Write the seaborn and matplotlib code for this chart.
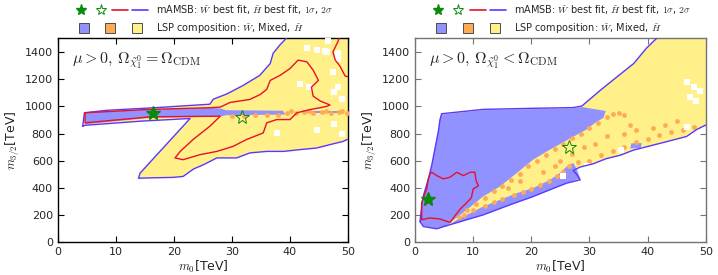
import numpy as np
import pandas as pd
import seaborn as sns
from matplotlib import pyplot as plt
from matplotlib.lines import Line2D
from matplotlib.legend_handler import HandlerTuple

# ---- left panel: Omega = Omega_CDM ----
L_OUTER_X = [4.3, 4.6, 8.4, 17.0, 26.2, 26.8, 29.1, 31.9, 34.8, 36.6, 37.1, 38.3, 39.7, 40.5, 52, 52,
             49.8, 49.2, 46.9, 44.6, 41.7, 38.9, 36.0, 33.1, 30.8, 27.4, 25.1, 23.4, 21.6, 19.9,
             16.5, 13.9, 14.2, 22.8, 14.2, 4.7]
L_OUTER_Y = [854, 953, 971, 991, 1016, 1053, 1091, 1153, 1228, 1315, 1390, 1453, 1515, 1560, 1560, 756,
             756, 743, 719, 694, 682, 669, 669, 658, 621, 621, 571, 540, 485, 478,
             475, 472, 510, 911, 891, 861]
L_WINO_X = [4.7, 4.7, 16.0, 26.2, 28.0, 29.0, 38.8, 39.2, 29.0, 28.0, 16.0, 4.7]
L_WINO_Y = [868, 955, 978, 990, 985, 972, 968, 940, 935, 925, 916, 868]
L_WINO2_X = [42.5, 48.5, 48.5, 42.5]
L_WINO2_Y = [948, 948, 964, 964]
L_MIX_X = [30, 32, 34, 36, 38, 39.5, 41, 42.5, 44, 45.5, 47, 48.5, 49.8,
           40.2, 43.2, 46.2, 49.0]
L_MIX_Y = [930, 932, 934, 936, 940, 955, 950, 956, 952, 958, 953, 957, 952,
           965, 968, 966, 968]
L_HOLE_X = [42.9, 44.6, 46.3, 48.3, 41.7, 43.2, 48.3, 47.5, 48.9, 44.6, 37.7, 47.5, 48.9,
            46.5, 48.3, 46.0, 47.4]
L_HOLE_Y = [1428, 1415, 1403, 1395, 1166, 1141, 1141, 1103, 1053, 830, 805, 870, 800,
            1481, 1346, 1407, 1250]
L_1S_X = [4.7, 15.9, 26.2, 28.0, 29.7, 33.1, 34.9, 36.0, 36.6, 38.3, 40.0, 41.4, 42.9, 44.0,
          44.9, 43.7, 44.0, 45.2, 46.9, 46.3, 45.2, 43.5, 41.2, 40.0, 37.7, 36.0, 35.4, 32.5,
          30.2, 27.4, 24.5, 21.6, 20.2, 21.1, 23.3, 26.2, 28.0, 15.9, 4.7, 4.7]
L_1S_Y = [953, 978, 990, 995, 1029, 1051, 1088, 1125, 1191, 1228, 1278, 1340, 1328, 1266,
          1191, 1141, 1075, 1040, 1010, 1000, 990, 977, 953, 903, 903, 879, 805, 756,
          706, 669, 645, 608, 621, 669, 756, 854, 928, 923, 879, 953]
L_1S2_X = [48.9, 48.3, 47.4, 47.8, 48.6, 49.5, 52, 52]
L_1S2_Y = [1560, 1480, 1400, 1340, 1297, 1223, 1200, 1560]
L_BEST = (16.4, 953)
L_HBEST = (31.7, 921)

# ---- right panel: Omega < Omega_CDM ----
R_OUTER_X = [0.86, 1.15, 1.43, 2.3, 2.87, 3.44, 4.01, 4.3, 4.58, 11.75, 20.4, 27.2, 28.7, 31.8,
             34.7, 37.6, 39.8, 41.9, 43, 52, 52, 49.9, 48.4, 46.7, 43.3, 41.0, 37.6, 35.3, 32.9,
             30.7, 28.4, 27.2, 27.8, 28.4, 26.1, 23.2, 20.3, 16.3, 11.7, 4.9, 3.73, 1.43]
R_OUTER_Y = [154, 267, 342, 467, 566, 691, 816, 903, 946, 978, 986, 991, 1003, 1116,
             1216, 1315, 1428, 1515, 1560, 1560, 861, 861, 829, 779, 741, 716, 679, 641, 616,
             579, 554, 529, 500, 460, 436, 387, 337, 276, 202, 116, 100, 117]
R_WINO_X = [0.95, 1.15, 1.43, 2.3, 2.87, 3.44, 4.01, 4.3, 4.58, 11.75, 20.4, 27.2, 28.7, 32.8,
            32.4, 31.0, 29.5, 26.5, 23.2, 20.3, 17.5, 14.6, 11.7, 8.9, 6.6, 5.4, 3.73, 1.43]
R_WINO_Y = [160, 267, 342, 467, 566, 691, 816, 903, 940, 972, 980, 985, 995, 966,
            916, 880, 830, 760, 682, 608, 510, 411, 337, 239, 165, 117, 102, 122]
R_WINO2_X = [5.5, 7.2, 11.7, 14.6, 17.5, 20.3, 23.2, 24.9, 26.1, 27.2, 27.8, 28.4, 26.1, 23.2,
             20.3, 16.3, 11.7, 4.9]
R_WINO2_Y = [120, 165, 263, 313, 362, 399, 460, 510, 559, 584, 540, 470, 436, 387,
             337, 276, 202, 116]
R_WINO3_X = [37.0, 38.8, 39.0, 37.2]
R_WINO3_Y = [690, 695, 730, 728]
R_MIX_X = [7.5, 9, 10.5, 12, 13.5, 15, 16.5, 18, 19.5, 21, 22.5, 24, 25.5, 27, 28.5, 30, 31.5,
           33, 34, 35, 36,
           8.5, 10, 12, 13.5, 15, 17, 18.5, 20, 21.5, 23, 24.5, 25.5, 26.5, 28, 30, 32, 34,
           36, 38, 40, 42, 44, 46, 48,
           22, 25, 27, 29, 31, 33, 36, 38, 41, 43, 45, 37, 18, 16, 24]
R_MIX_Y = [190, 235, 280, 330, 375, 415, 460, 505, 560, 600, 640, 690, 720, 770, 800, 840, 880,
           920, 945, 950, 940,
           200, 235, 270, 300, 320, 345, 370, 395, 420, 450, 490, 520, 560, 590, 600, 640, 670,
           700, 740, 760, 790, 810, 830, 850,
           520, 600, 650, 700, 720, 780, 800, 830, 840, 866, 895, 866, 450, 400, 560]
R_HOLE_X = [46.7, 47.9, 49.0, 47.3, 48.4, 46.7, 42.7, 35.5, 29.5, 25.5]
R_HOLE_Y = [1178, 1141, 1116, 1066, 1041, 846, 716, 679, 559, 491]
R_1S_X = [1.15, 1.15, 2.0, 2.3, 2.6, 2.87, 3.73, 4.9, 6.0, 7.2, 8.3, 9.5, 10.3, 10.5, 10.9,
          10.0, 9.7, 8.9, 7.7, 6.6, 6.0, 4.3, 2.6, 1.15]
R_1S_Y = [167, 292, 392, 467, 504, 516, 491, 467, 479, 516, 491, 516, 516, 454, 416,
          392, 329, 292, 242, 180, 147, 172, 180, 167]
R_BEST = (2.3, 322)
R_HBEST = (26.4, 704)

X_TICKS = [0, 10, 20, 30, 40, 50]
Y_TICKS = [0, 200, 400, 600, 800, 1000, 1200, 1400]

YELLOW = "#fff08a"
WINO = "#9191ff"
ORANGE = "#ffaa55"
BLUE_LINE = "#5a37ff"
RED = "#e8102a"
GREEN = "#0a8a0a"

sns.set_style("ticks")
plt.rcParams["font.family"] = ["DejaVu Sans"]
plt.rcParams["mathtext.fontset"] = "cm"


def closed(xs, ys):
    return list(xs) + [xs[0]], list(ys) + [ys[0]]


def draw_panel(ax, outer, winos, mix, holes, ones, best, hbest, text, spine_col):
    ax.fill(outer[0], outer[1], color=YELLOW, lw=0, zorder=1)
    for wx, wy in winos:
        ax.fill(wx, wy, color=WINO, lw=0, zorder=2)
    sns.scatterplot(x=mix[0], y=mix[1], ax=ax, color=ORANGE, marker="o", s=12,
                    linewidth=0, zorder=3, legend=False)
    sns.scatterplot(x=holes[0], y=holes[1], ax=ax, color="white", marker="s", s=14,
                    linewidth=0, zorder=3, legend=False)
    ox, oy = closed(*outer)
    ax.plot(ox, oy, color=BLUE_LINE, lw=1.0, zorder=4)
    for rx, ry in ones:
        cx, cy = closed(rx, ry)
        ax.plot(cx, cy, color=RED, lw=1.0, zorder=5)
    ax.plot(*best, ls="none", marker="*", ms=10, color=GREEN, zorder=6)
    ax.plot(*hbest, ls="none", marker="*", ms=10, mfc="none", mec=GREEN, mew=0.7, zorder=6)

    ax.set_xlim(0, 50)
    ax.set_ylim(0, 1500)
    ax.set_xticks(X_TICKS)
    ax.set_yticks(Y_TICKS)
    ax.tick_params(direction="in", top=True, right=True, length=4, width=0.8,
                   labelsize=8, color=spine_col)
    for sp in ax.spines.values():
        sp.set_visible(True)
        sp.set_color(spine_col)
        sp.set_linewidth(1.0)
    ax.set_xlabel(r"$m_0$[TeV]", fontsize=9, labelpad=1)
    ax.set_ylabel(r"$m_{3/2}$[TeV]", fontsize=9, labelpad=2)
    ax.text(0.048, 0.877, text, transform=ax.transAxes, fontsize=11.5, va="baseline")

    h1 = (Line2D([], [], ls="none", marker="*", ms=8, color=GREEN),
          Line2D([], [], ls="none", marker="*", ms=8, mfc="none", mec=GREEN, mew=0.7),
          Line2D([], [], color=RED, lw=1.2),
          Line2D([], [], color=BLUE_LINE, lw=1.2))
    h2 = tuple(Line2D([], [], ls="none", marker="s", ms=7.5, mfc=c, mec="0.3", mew=0.7)
               for c in (WINO, ORANGE, YELLOW))
    ax.legend([h1, h2],
              [r"mAMSB: $\tilde{W}$ best fit, $\tilde{H}$ best fit, $1\sigma$, $2\sigma$",
               r"LSP composition: $\tilde{W}$, Mixed, $\tilde{H}$"],
              handler_map={tuple: HandlerTuple(ndivide=None, pad=0.4)},
              handlelength=7.8, loc="lower center", bbox_to_anchor=(0.5, 1.0),
              frameon=False, fontsize=7, labelspacing=0.55, handletextpad=0.8,
              borderaxespad=0, borderpad=0.3)


fig = plt.figure(figsize=(7.18, 2.75), dpi=100)
ax1 = fig.add_axes([0.0804, 0.1185, 0.4043, 0.742])
ax2 = fig.add_axes([0.578, 0.1185, 0.405, 0.742])

draw_panel(ax1, (L_OUTER_X, L_OUTER_Y),
           [(L_WINO_X, L_WINO_Y), (L_WINO2_X, L_WINO2_Y)],
           (L_MIX_X, L_MIX_Y), (L_HOLE_X, L_HOLE_Y),
           [(L_1S_X, L_1S_Y), (L_1S2_X, L_1S2_Y)],
           L_BEST, L_HBEST,
           r"$\mu>0,\,\Omega_{\tilde{\chi}_1^0}=\Omega_{\rm CDM}$", "black")
draw_panel(ax2, (R_OUTER_X, R_OUTER_Y),
           [(R_WINO_X, R_WINO_Y), (R_WINO2_X, R_WINO2_Y), (R_WINO3_X, R_WINO3_Y)],
           (R_MIX_X, R_MIX_Y), (R_HOLE_X, R_HOLE_Y),
           [(R_1S_X, R_1S_Y)],
           R_BEST, R_HBEST,
           r"$\mu>0,\,\Omega_{\tilde{\chi}_1^0}<\Omega_{\rm CDM}$", "0.45")

fig.savefig("out.png", dpi=100)
